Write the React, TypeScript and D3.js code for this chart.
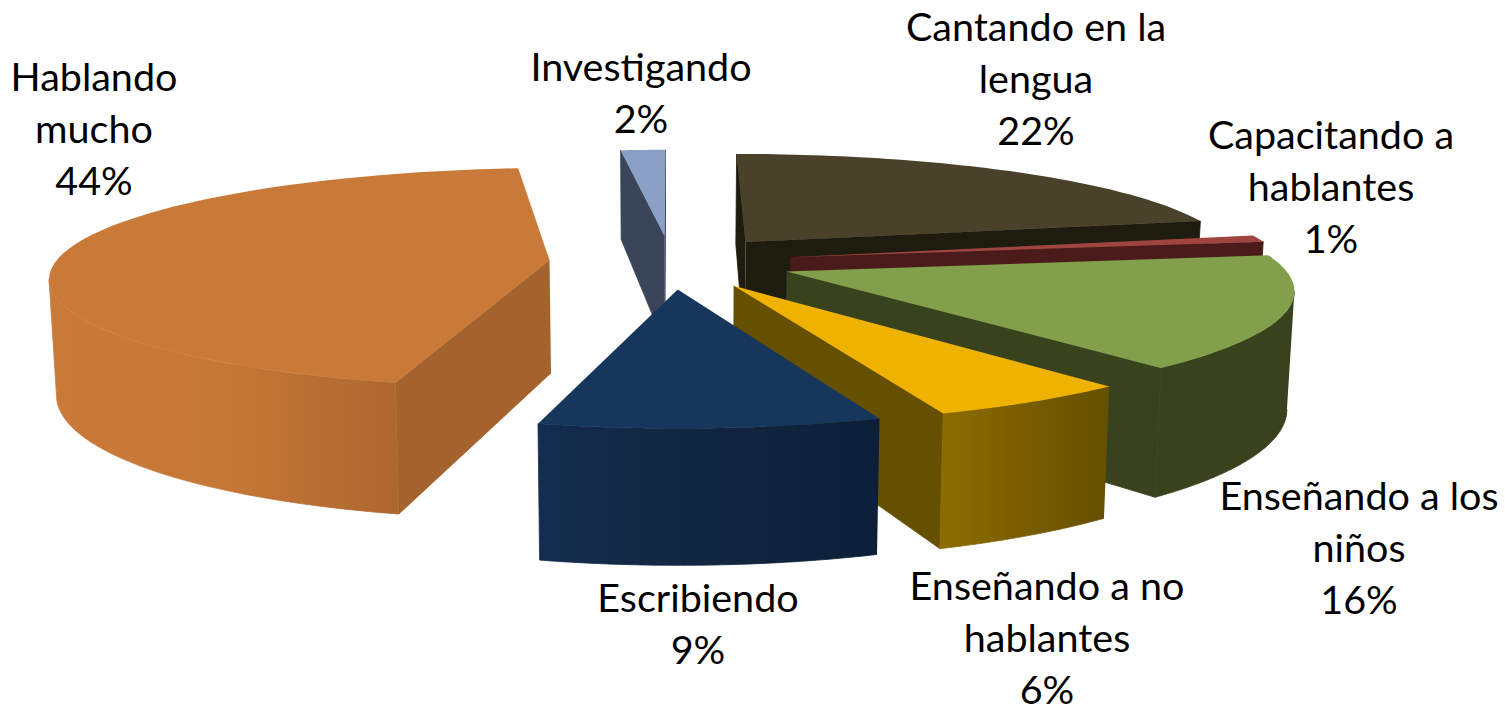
import React from 'react';
import * as d3 from 'd3';

const width = 1505;
const height = 707;

// chart values
const categories = [
  'Cantando en la lengua',
  'Capacitando a hablantes',
  'Enseñando a los niños',
  'Enseñando a no hablantes',
  'Escribiendo',
  'Hablando mucho',
  'Investigando',
];
const shares = [21.6, 1, 16.3, 5.6, 9.3, 44.5, 1.7];

// colours, same order as categories
const topColors = ['#49412a', '#a04440', '#82a04b', '#efb200', '#17365c', '#ca7a38', '#8aa0c4'];
const radialColors = ['#1e1b0f', '#4a1b1a', '#38431e', '#655000', '#10233f', '#a4622c', '#3a4559'];
const wallLeftColors = ['#1e1b0f', '#4a1b1a', '#38431e', '#8c6c00', '#142c4e', '#ca7a38', '#3a4559'];
const wallMidColors = ['#1e1b0f', '#4a1b1a', '#38431e', '#785c00', '#11263f', '#c67836', '#3a4559'];
const wallRightColors = ['#1e1b0f', '#4a1b1a', '#38431e', '#655000', '#0d1f38', '#ad672f', '#3a4559'];

// label lines and where they sit
const labelLines = [
  ['Cantando en la', 'lengua'],
  ['Capacitando a', 'hablantes'],
  ['Enseñando a los', 'niños'],
  ['Enseñando a no', 'hablantes'],
  ['Escribiendo'],
  ['Hablando', 'mucho'],
  ['Investigando'],
];
const labelX = [1036, 1331, 1359, 1047, 698, 94, 641];
const labelY = [41, 149, 510, 600, 612, 91, 81];
const lineHeight = 52;

// projection of the pie plane (unit radius) onto the screen
const cx = 671;
const cy = 262;
const scaleX = 494;
const scaleY = 107.5;
const perspX = 0.14;
const perspY = 0.156;
const explode = 0.247;
const depth = 113;
const cameraY = 1 / perspY;

type Pt = { x: number; y: number };

const projectTop = (p: Pt): [number, number] => [
  cx + (scaleX * p.x) / (1 - perspX * p.y),
  cy + (scaleY * p.y) / (1 - perspY * p.y),
];

const projectBottom = (p: Pt): [number, number] => {
  const [x, y] = projectTop(p);
  return [cx + (x - cx) * 0.988, y + depth * (1 + 0.17 * p.y)];
};

const line = d3.line();
const pct = d3.format('.0%');
const total = d3.sum(shares);

const pie = d3.pie<number>().sort(null);

const buildSlices = () =>
  pie(shares)
    .map((arc, i) => {
      const mid = (arc.startAngle + arc.endAngle) / 2;
      const apex: Pt = { x: explode * Math.sin(mid), y: -explode * Math.cos(mid) };
      const rim = (a: number): Pt => ({ x: apex.x + Math.sin(a), y: apex.y - Math.cos(a) });
      const sample = (a0: number, a1: number) =>
        d3.range(0, 61).map(k => rim(a0 + ((a1 - a0) * k) / 60));

      const rimPts = sample(arc.startAngle, arc.endAngle);
      const top = line([projectTop(apex), ...rimPts.map(projectTop)]);

      // radial faces, only if the camera is on their outer side
      const side = (r: Pt, q: Pt) => (r.x - apex.x) * (q.y - apex.y) - (r.y - apex.y) * (q.x - apex.x);
      const camera = { x: 0, y: cameraY };
      const inner = rim(mid);
      const radial = [arc.startAngle, arc.endAngle]
        .map(rim)
        .filter(r => side(r, camera) * side(r, inner) < 0)
        .map(r =>
          line([projectTop(apex), projectTop(r), projectBottom(r), projectBottom(apex)])
        );

      // rim face runs between the two silhouette points of the projected circle
      const turns = d3.range(0, 720).map(k => (k * Math.PI) / 360);
      const xOf = (a: number) => projectTop(rim(a))[0];
      const right = turns[d3.greatestIndex(turns, xOf)];
      const left = turns[d3.leastIndex(turns, xOf)];
      const lo = Math.max(arc.startAngle, right);
      const hi = Math.min(arc.endAngle, left);
      const front = lo < hi ? sample(lo, hi) : [];
      const outer = front.length
        ? line([...front.map(projectTop), ...front.slice().reverse().map(projectBottom)])
        : null;
      const xs = front.map(p => projectTop(p)[0]);

      return { i, apex, top, radial, outer, x0: d3.min(xs), x1: d3.max(xs) };
    })
    .sort((a, b) => a.apex.y - b.apex.y);

export default function App() {
  const slices = buildSlices();
  return (
    <svg
      width={width}
      height={height}
      viewBox={`0 0 ${width} ${height}`}
      style={{ position: 'absolute', left: 0, top: 0 }}
    >
      <defs>
        {slices.map(s => (
          <linearGradient
            key={s.i}
            id={`wall-${s.i}`}
            gradientUnits="userSpaceOnUse"
            x1={s.x0 ?? 0}
            x2={s.x1 ?? 1}
            y1={0}
            y2={0}
          >
            <stop offset="0" stopColor={wallLeftColors[s.i]} />
            <stop offset="0.5" stopColor={wallMidColors[s.i]} />
            <stop offset="1" stopColor={wallRightColors[s.i]} />
          </linearGradient>
        ))}
      </defs>
      {slices.map(s => (
        <g key={s.i} data-name={categories[s.i]}>
          {s.radial.map((d, k) => (
            <path key={k} d={d ?? ''} fill={radialColors[s.i]} stroke={radialColors[s.i]} strokeWidth={0.8} />
          ))}
          {s.outer && (
            <path d={s.outer} fill={`url(#wall-${s.i})`} stroke={`url(#wall-${s.i})`} strokeWidth={0.8} />
          )}
          <path d={s.top ?? ''} fill={topColors[s.i]} />
        </g>
      ))}
      <g fontFamily="Lato, 'Open Sans', sans-serif" fontSize={39.5} fill="#000" textAnchor="middle">
        {labelLines.map((lines, i) => (
          <text key={i} x={labelX[i]} y={labelY[i]}>
            {[...lines, pct(shares[i] / total)].map((t, k) => (
              <tspan key={k} x={labelX[i]} dy={k === 0 ? 0 : lineHeight}>
                {t}
              </tspan>
            ))}
          </text>
        ))}
      </g>
    </svg>
  );
}
